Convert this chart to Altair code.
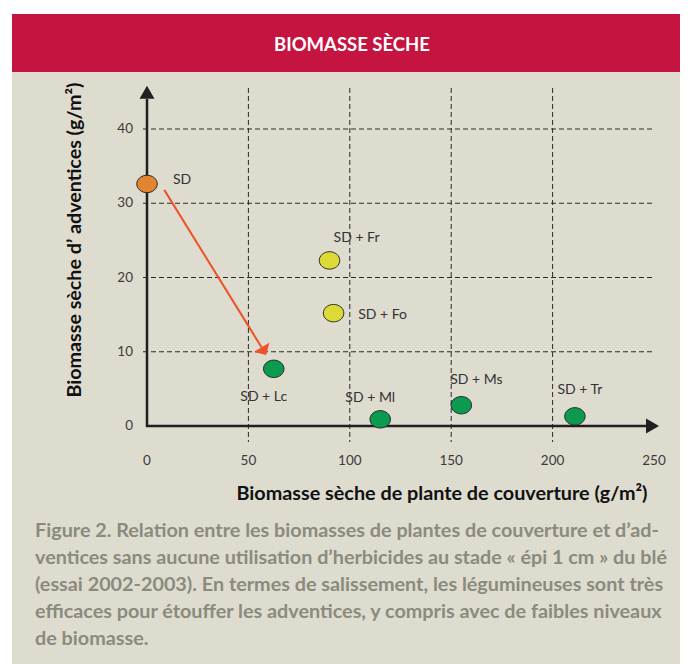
import altair as alt
import pandas as pd

# ---------------- data ----------------
treatments = ["SD", "SD + Fr", "SD + Fo", "SD + Lc", "SD + Ml", "SD + Ms", "SD + Tr"]
cover_biomass = [0, 90, 92, 62.5, 115, 155, 211]
weed_biomass = [32.6, 22.3, 15.2, 7.7, 0.9, 2.8, 1.3]
groups = ["témoin", "graminée", "graminée", "légumineuse", "légumineuse", "légumineuse", "légumineuse"]

x_ticks = [0, 50, 100, 150, 200, 250]
y_ticks = [0, 10, 20, 30, 40]

arrow_x = [8.5, 56.5]
arrow_y = [31.8, 10.6]

title_text = "BIOMASSE SÈCHE"
x_title = "Biomasse sèche de plante de couverture (g/m²)"
y_title = "Biomasse sèche d’ adventices (g/m²)"
caption_lines = [
    "Figure 2. Relation entre les biomasses de plantes de couverture et d’ad-",
    "ventices sans aucune utilisation d’herbicides au stade « épi 1 cm » du blé",
    "(essai 2002-2003). En termes de salissement, les légumineuses sont très",
    "efficaces pour étouffer les adventices, y compris avec de faibles niveaux",
    "de biomasse.",
]

# ---------------- styles ----------------
group_domain = ["témoin", "graminée", "légumineuse"]
group_colors = ["#e2852f", "#dcdb35", "#0c9a4e"]
label_dx = [35, 27, 49, -10, -10, 15, 5]
label_dy = [-4, -22, 2, 28, -21, -25, -26]

COND = "Lato, Roboto, sans-serif"
REG = "Lato, Roboto, sans-serif"
BEIGE = "#dedbcf"
RED = "#c5143f"
INK = "#231f20"
W, H = 507, 297

ellipse = "M -1 0 A 1 0.85 0 1 1 1 0 A 1 0.85 0 1 1 -1 0 Z"
tri_axis = "M 0 -1 L 1 0.73 L -1 0.73 Z"
tri_arrow = "M 0 -1 L 1 0 L -1 0 Z"

xs = alt.Scale(domain=[0, 250], nice=False, zero=False)
ys = alt.Scale(domain=[0, 40], nice=False, zero=False)

df = pd.DataFrame({"x": cover_biomass, "y": weed_biomass, "label": treatments, "group": groups})
one = pd.DataFrame({"t": [title_text]})

# background panels
bg = alt.Chart(one).mark_rect(color=BEIGE).encode(
    x=alt.value(-135), x2=alt.value(560), y=alt.value(-57), y2=alt.value(560))
banner = alt.Chart(one).mark_rect(color=RED).encode(
    x=alt.value(-135), x2=alt.value(560), y=alt.value(-115), y2=alt.value(-57))
banner_text = alt.Chart(one).mark_text(
    font=COND, fontSize=18.5, fontWeight="bold", color="white", align="center", baseline="middle"
).encode(x=alt.value(205), y=alt.value(-84), text="t:N")

# grid
hgrid = alt.Chart(pd.DataFrame({"v": y_ticks[1:]})).mark_rule(
    strokeDash=[5, 3], color="#2b2b2b", strokeWidth=1
).encode(y=alt.Y("v:Q", scale=ys, axis=None), x=alt.value(-4), x2=alt.value(508))
vgrid = alt.Chart(pd.DataFrame({"v": x_ticks[1:5]})).mark_rule(
    strokeDash=[5, 3], color="#2b2b2b", strokeWidth=1
).encode(x=alt.X("v:Q", scale=xs, axis=None), y=alt.value(-41), y2=alt.value(313))

# axes lines and arrowheads
yaxis = alt.Chart(one).mark_rule(color=INK, strokeWidth=2.5).encode(
    x=alt.value(0), y=alt.value(298), y2=alt.value(-30))
xaxis = alt.Chart(one).mark_rule(color=INK, strokeWidth=2.5).encode(
    y=alt.value(297), x=alt.value(-1), x2=alt.value(500))
yhead = alt.Chart(one).mark_point(shape=tri_axis, filled=True, size=225, color=INK, opacity=1).encode(
    x=alt.value(0), y=alt.value(-35.8))
xhead = alt.Chart(one).mark_point(shape=tri_axis, filled=True, size=225, color=INK, opacity=1, angle=90).encode(
    x=alt.value(504.5), y=alt.value(297))

# tick labels
ylab = alt.Chart(pd.DataFrame({"v": y_ticks})).mark_text(
    font=REG, fontSize=13.5, color="#3c3c3c", align="right", baseline="middle"
).encode(y=alt.Y("v:Q", scale=ys, axis=None), x=alt.value(-14), text="v:Q")
xlab = alt.Chart(pd.DataFrame({"v": x_ticks})).mark_text(
    font=REG, fontSize=13.5, color="#3c3c3c", align="center", baseline="middle"
).encode(x=alt.X("v:Q", scale=xs, axis=None), y=alt.value(332), text="v:Q")

# axis titles
ytitle = alt.Chart(pd.DataFrame({"t": [y_title]})).mark_text(
    font=COND, fontSize=19.7, fontWeight="bold", color="#111", angle=270, align="center", baseline="middle"
).encode(x=alt.value(-72), y=alt.value(111), text="t:N")
xtitle = alt.Chart(pd.DataFrame({"t": [x_title]})).mark_text(
    font=COND, fontSize=19.8, fontWeight="bold", color="#111", align="center", baseline="middle"
).encode(x=alt.value(295), y=alt.value(365), text="t:N")

caption = alt.Chart(one).mark_text(
    text=caption_lines, font=COND, fontSize=19.8, fontWeight="bold", color="#8a8b7d",
    align="left", baseline="top", lineHeight=27
).encode(x=alt.value(-112), y=alt.value(392))

# arrow
adf = pd.DataFrame({"x": arrow_x, "y": arrow_y})
arrow_line = alt.Chart(adf).mark_line(color="#ef5129", strokeWidth=2).encode(
    x=alt.X("x:Q", scale=xs, axis=None), y=alt.Y("y:Q", scale=ys, axis=None))
arrow_head = alt.Chart(adf.tail(1)).mark_point(
    shape=tri_arrow, filled=True, size=324, color="#ef5129", opacity=1, angle=149
).encode(x=alt.X("x:Q", scale=xs, axis=None), y=alt.Y("y:Q", scale=ys, axis=None))

# points
points = alt.Chart(df).mark_point(
    shape=ellipse, filled=True, size=420, stroke="#2b2b2b", strokeWidth=1, opacity=1
).encode(
    x=alt.X("x:Q", scale=xs, axis=None),
    y=alt.Y("y:Q", scale=ys, axis=None),
    fill=alt.Fill("group:N", scale=alt.Scale(domain=group_domain, range=group_colors), legend=None),
)

labels = []
for name, dx, dy in zip(treatments, label_dx, label_dy):
    labels.append(
        alt.Chart(df).transform_filter(alt.datum.label == name).mark_text(
            font=REG, fontSize=14, color="#333333", align="center", baseline="middle", dx=dx, dy=dy
        ).encode(x=alt.X("x:Q", scale=xs, axis=None), y=alt.Y("y:Q", scale=ys, axis=None), text="label:N")
    )

chart = alt.layer(
    bg, banner, banner_text, hgrid, vgrid, yaxis, xaxis, yhead, xhead, ylab, xlab,
    ytitle, xtitle, caption, arrow_line, arrow_head, points, *labels
).properties(
    width=W, height=H,
    padding={"left": 139, "top": 121, "right": 26, "bottom": 238},
    autosize=alt.AutoSizeParams(type="none"),
    background="white",
).configure_view(stroke=None)

chart.save("out.html", embed_options={"renderer": "svg", "actions": False})
